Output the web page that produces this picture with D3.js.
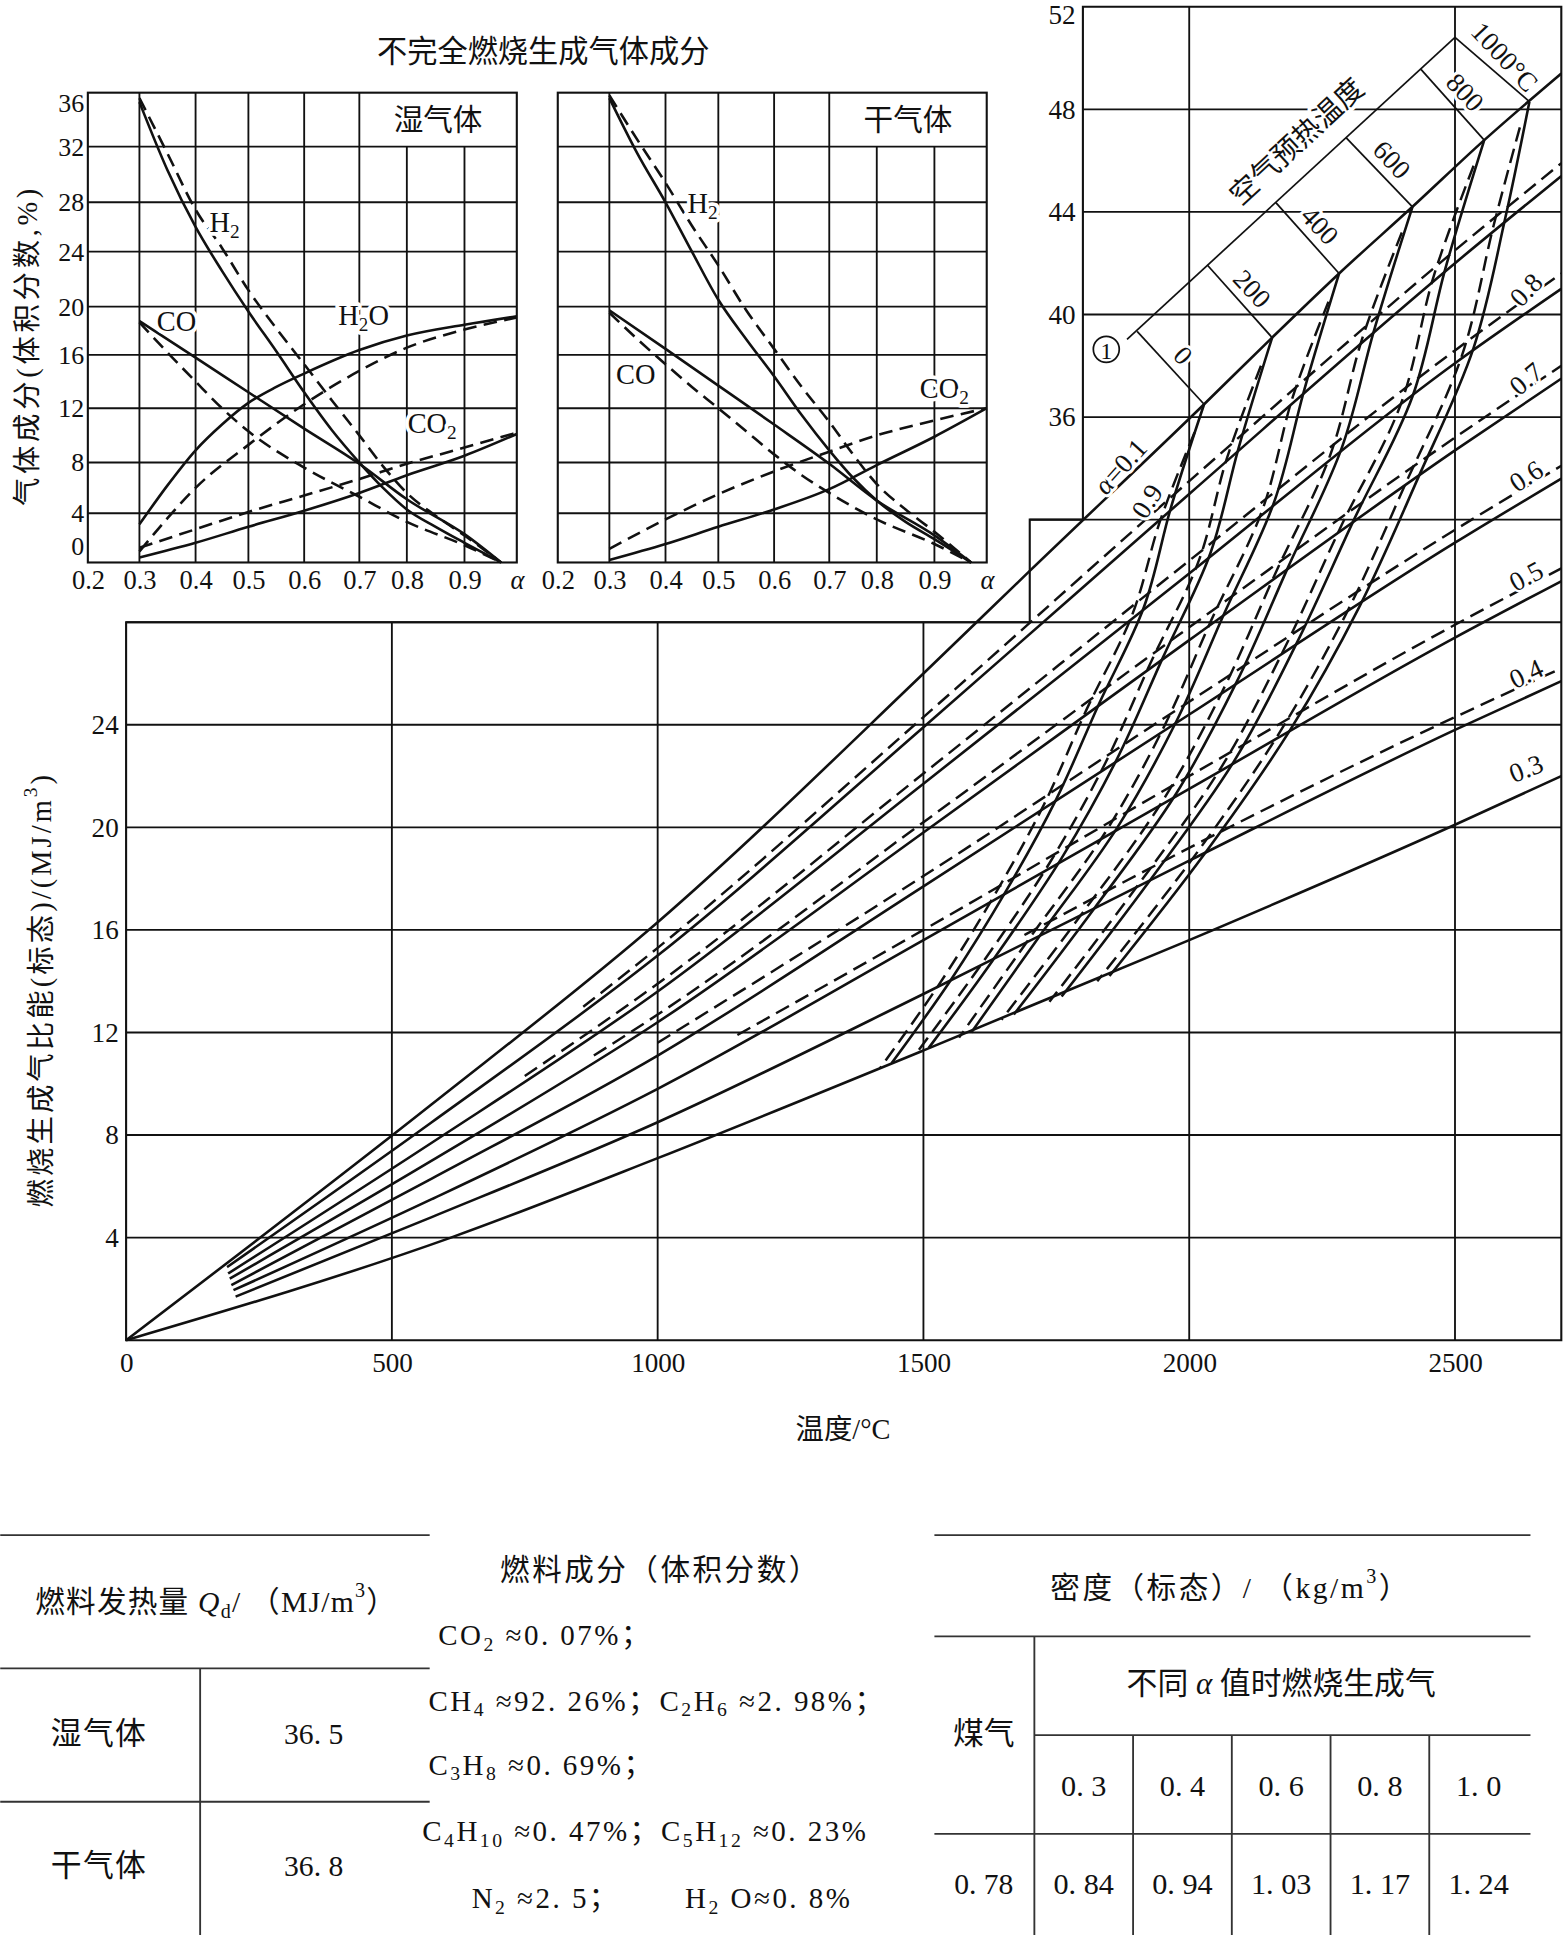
<!DOCTYPE html>
<html>
<head>
<meta charset="utf-8">
<script src="https://cdn.jsdelivr.net/npm/d3@7"></script>
<style>
body { margin: 0; background: #fff; }
svg { display: block; }
text { font-family: 'Liberation Serif', 'Noto Sans CJK SC', serif; fill: #111; }
</style>
</head>
<body>
<svg id="chart" width="1564" height="1935" viewBox="0 0 1267 1568"></svg>
<script>
// ---- small charts: gas composition vs alpha ----
const alphaGrid = [0.2, 0.3, 0.4, 0.5, 0.6, 0.7, 0.8, 0.9, 1.0];
const pctTicks = [0, 4, 8, 12, 16, 20, 24, 28, 32, 36];

const wetH2 = [[0.3,35.3],[0.35,30.3],[0.4,26.0],[0.45,22.6],[0.5,19.6],[0.55,16.3],[0.6,13.2],[0.65,10.4],[0.7,8.0],[0.75,6.0],[0.8,4.3],[0.85,2.9],[0.9,1.6],[0.97,0]];
const wetH2d = [[0.3,35.6],[0.35,31.5],[0.4,27.4],[0.45,24.3],[0.5,21.2],[0.55,18.2],[0.6,15.3],[0.65,12.6],[0.7,10.0],[0.75,7.7],[0.8,5.6],[0.85,3.8],[0.9,2.2],[0.97,0]];
const wetCO = [[0.3,18.8],[0.4,15.8],[0.5,13.2],[0.6,10.5],[0.7,7.9],[0.8,5.1],[0.9,2.3],[0.97,0]];
const wetCOd = [[0.3,18.7],[0.35,16.2],[0.4,14.0],[0.45,12.0],[0.5,10.3],[0.6,7.6],[0.7,5.3],[0.8,3.3],[0.9,1.4],[0.97,0]];
const wetH2O = [[0.3,3.1],[0.35,6.2],[0.4,8.9],[0.45,10.8],[0.5,12.4],[0.55,13.6],[0.6,14.6],[0.7,16.4],[0.8,17.6],[0.9,18.5],[1.0,19.2]];
const wetH2Od = [[0.3,0.9],[0.35,3.6],[0.4,6.0],[0.5,9.3],[0.6,12.3],[0.7,14.8],[0.8,16.6],[0.9,18.1],[1.0,19.1]];
const wetCO2 = [[0.3,0.4],[0.4,1.6],[0.5,2.9],[0.6,4.2],[0.7,5.6],[0.8,7.0],[0.9,8.5],[1.0,10.1]];
const wetCO2d = [[0.3,1.2],[0.4,2.7],[0.5,4.1],[0.6,5.4],[0.7,6.7],[0.8,7.9],[0.9,9.1],[1.0,10.2]];

const dryH2 = [[0.3,35.6],[0.35,31.5],[0.4,28.0],[0.45,24.0],[0.5,20.5],[0.55,17.3],[0.6,14.4],[0.65,11.5],[0.7,8.9],[0.75,6.8],[0.8,5.0],[0.85,3.3],[0.9,1.9],[0.97,0]];
const dryH2d = [[0.3,35.8],[0.35,32.5],[0.4,29.4],[0.45,26.1],[0.5,23.0],[0.55,19.7],[0.6,16.5],[0.65,13.6],[0.7,11.0],[0.75,8.6],[0.8,6.3],[0.85,4.3],[0.9,2.5],[0.97,0]];
const dryCO = [[0.3,19.7],[0.4,16.5],[0.5,13.7],[0.6,10.8],[0.7,7.9],[0.8,5.0],[0.9,2.2],[0.97,0]];
const dryCOd = [[0.3,19.5],[0.35,17.3],[0.4,15.3],[0.45,13.6],[0.5,12.0],[0.55,10.3],[0.6,8.6],[0.65,7.0],[0.7,5.6],[0.8,3.5],[0.9,1.5],[0.97,0]];
const dryCO2 = [[0.3,0.2],[0.4,1.5],[0.5,2.9],[0.6,4.3],[0.7,5.9],[0.8,7.8],[0.9,9.9],[1.0,12.0]];
const dryCO2d = [[0.3,1.1],[0.4,3.5],[0.5,5.5],[0.6,7.3],[0.7,8.8],[0.8,10.0],[0.9,11.1],[1.0,12.0]];

// ---- main chart: specific energy vs temperature ----
const tempTicks = [0, 500, 1000, 1500, 2000, 2500];
const energyLow = [4, 8, 12, 16, 20, 24];
const energyHigh = [36, 40, 44, 48, 52];

// solid alpha lines [T, MJ/m3]
const a10 = [[0,0],[575,9.2],[1000,16.3],[1500,26.0],[1700,30.0],[2028,36.5],[2156,39.1],[2282,41.6],[2420,44.2],[2555,46.8],[2700,49.4]];
const a09 = [[190,2.85],[575,8.5],[1000,15.0],[1500,23.9],[2000,33.0],[2500,42.0],[2700,45.4]];
const a08 = [[192,2.6],[575,7.7],[1000,13.6],[1500,21.7],[2000,29.9],[2500,38.1],[2700,41.0]];
const a07 = [[195,2.4],[575,7.0],[1000,12.4],[1500,19.8],[2000,27.3],[2500,34.7],[2700,37.5]];
const a06 = [[198,2.15],[575,6.3],[1000,11.1],[1500,17.7],[2000,24.4],[2500,31.1],[2700,33.6]];
const a05 = [[202,1.95],[575,5.5],[1000,9.8],[1500,15.6],[2000,21.5],[2500,27.4],[2700,29.6]];
const a04 = [[206,1.7],[575,4.8],[1000,8.5],[1500,13.5],[2000,18.7],[2500,23.8],[2700,25.7]];
const a03 = [[0,0],[611,4.0],[1000,7.1],[1500,11.3],[2000,15.6],[2500,20.1],[2700,22.0]];
// dashed alpha lines
const a09d = [[860,13.0],[1000,15.3],[1500,24.3],[2000,33.5],[2500,42.5],[2700,45.9]];
const a08d = [[750,10.3],[1000,13.9],[1500,22.1],[2000,30.4],[2500,38.6],[2700,41.6]];
const a07d = [[880,11.1],[1000,12.7],[1500,20.2],[2000,27.8],[2500,35.2],[2700,38.0]];
const a06d = [[1000,11.6],[1500,18.1],[2000,24.9],[2500,31.6],[2700,34.1]];
const a05d = [[1150,11.9],[1500,16.0],[2000,22.0],[2500,27.9],[2700,30.1]];
const a04d = [[1690,15.8],[2000,19.2],[2500,24.3],[2700,26.2]];

// air preheat curves, from alpha = 1.0 down to 0.3
const preheatTemps = [0, 200, 400, 600, 800, 1000];
const pre0 = [[2028,36.5],[1966,32.5],[1915,28.6],[1830,24.8],[1750,21.1],[1655,17.5],[1550,14.0],[1440,10.8]];
const pre200 = [[2156,39.1],[2093,34.8],[2040,30.7],[1950,26.6],[1865,22.7],[1760,18.8],[1630,14.8],[1510,11.4]];
const pre400 = [[2282,41.6],[2217,37.1],[2160,32.7],[2065,28.3],[1975,24.1],[1865,20.0],[1720,15.8],[1590,12.0]];
const pre600 = [[2420,44.2],[2348,39.4],[2287,34.8],[2185,30.1],[2090,25.7],[1975,21.3],[1820,16.8],[1670,12.7]];
const pre800 = [[2555,46.8],[2482,41.8],[2420,36.8],[2310,32.0],[2205,27.3],[2085,22.6],[1925,17.9],[1760,13.4]];
const pre1000 = [[2640,48.3],[2595,43.8],[2535,38.7],[2430,33.6],[2320,28.6],[2190,23.8],[2030,19.0],[1850,14.2]];
const pre0d = [[2010,35.4],[1946,32.0],[1893,28.3],[1807,24.6],[1727,20.9],[1632,17.3],[1527,13.8],[1418,10.6]];
const pre200d = [[2135,38.0],[2071,34.4],[2018,30.4],[1927,26.4],[1842,22.5],[1737,18.6],[1607,14.6],[1487,11.2]];
const pre400d = [[2262,40.5],[2195,36.8],[2138,32.4],[2042,28.1],[1952,23.9],[1842,19.8],[1697,15.6],[1567,11.8]];
const pre600d = [[2400,43.2],[2326,39.1],[2265,34.5],[2162,29.9],[2067,25.5],[1952,21.1],[1797,16.6],[1647,12.5]];
const pre800d = [[2535,45.8],[2460,41.5],[2398,36.5],[2287,31.8],[2182,27.1],[2062,22.4],[1902,17.7],[1737,13.2]];
const pre1000d = [[2622,47.3],[2573,43.5],[2513,38.4],[2407,33.4],[2297,28.4],[2167,23.6],[2007,18.8],[1827,14.0]];

// preheat scale axis: start, then tick points for 0..1000 °C
const preheatAxisStart = [1883, 39.03];
const preheatTickPts = [[1902,39.34],[2034,41.93],[2163,44.36],[2295,46.9],[2436,49.56],[2500,50.81]];

// ---- tables ----
const heatRows = [['湿气体', '36. 5'], ['干气体', '36. 8']];
const densityAlpha = ['0. 3', '0. 4', '0. 6', '0. 8', '1. 0'];
const densityGas = '0. 78';
const densityProducts = ['0. 84', '0. 94', '1. 03', '1. 17', '1. 24'];

const svg = d3.select('#chart');
const INK = '#111';

function rich(g, x, y, parts, size, opts = {}) {
    const t = g.append('text').attr('x', x).attr('y', y).attr('font-size', size)
        .attr('text-anchor', opts.anchor || 'middle').attr('dominant-baseline', 'central');
    if (opts.rotate) t.attr('transform', `rotate(${opts.rotate},${x},${y})`);
    if (opts.halo) t.attr('stroke', '#fff').attr('stroke-width', opts.halo)
        .attr('paint-order', 'stroke').attr('stroke-linejoin', 'round');
    if (opts.spacing) t.attr('letter-spacing', opts.spacing);
    let shift = 0;
    parts.forEach(p => {
        const [s, k] = typeof p === 'string' ? [p, ''] : p;
        const target = k === 'sub' ? size * 0.3 : k === 'sup' ? -size * 0.4 : 0;
        const ts = t.append('tspan').attr('dy', target - shift).text(s);
        if (k === 'sub' || k === 'sup') ts.attr('font-size', size * 0.68);
        if (k === 'i') ts.attr('font-style', 'italic');
        shift = target;
    });
    return t;
}

const valueAt = (pts, t) => {
    for (let i = 1; i < pts.length; i++) {
        if (t <= pts[i][0]) {
            const [t0, v0] = pts[i - 1], [t1, v1] = pts[i];
            return v0 + (v1 - v0) * (t - t0) / (t1 - t0);
        }
    }
    return pts[pts.length - 1][1];
};

// ================= small charts =================
const yPct = d3.scaleLinear().domain(pctTicks)
    .range([455.8, 415.9, 374.8, 330.8, 287.6, 248.5, 203.9, 163.9, 118.8, 75.1]);
const xWet = d3.scaleLinear().domain(alphaGrid)
    .range([71, 112.8, 158.3, 201.1, 246.3, 291, 329.5, 376.2, 418.6]);
const xDry = xWet.copy().range(xWet.range().map(d => d + 380.8));

const panel = (xs, title, series, labels) => {
    const g = svg.append('g');
    const x0 = xs(0.2), x1 = xs(1.0);
    g.selectAll('.h').data(pctTicks.slice(1, -1)).join('line')
        .attr('x1', x0).attr('x2', x1).attr('y1', d => yPct(d)).attr('y2', d => yPct(d))
        .attr('stroke', INK).attr('stroke-width', 1.5);
    g.selectAll('.v').data(alphaGrid.slice(1, -1)).join('line')
        .attr('x1', d => xs(d)).attr('x2', d => xs(d))
        .attr('y1', d => d >= 0.8 ? yPct(32) : yPct(36)).attr('y2', yPct(0))
        .attr('stroke', INK).attr('stroke-width', 1.5);
    g.append('rect').attr('x', x0).attr('y', yPct(36)).attr('width', x1 - x0).attr('height', yPct(0) - yPct(36))
        .attr('fill', 'none').attr('stroke', INK).attr('stroke-width', 1.7);

    const line = d3.line().x(d => xs(d[0])).y(d => yPct(d[1])).curve(d3.curveMonotoneX);
    g.selectAll('.curve').data(series).join('path')
        .attr('d', d => line(d.data)).attr('fill', 'none').attr('stroke', INK)
        .attr('stroke-width', 2.1).attr('stroke-dasharray', d => d.dash ? '11,6' : null);

    labels.forEach(l => rich(g, xs(l.at[0]), yPct(l.at[1]), l.parts, 23, { halo: 6 }));
    rich(g, (xs(0.7) + x1) / 2, (yPct(36) + yPct(32)) / 2, [title], 24);

    g.append('g').attr('transform', `translate(0,${yPct(0)})`)
        .call(d3.axisBottom(xs).tickValues(alphaGrid).tickSize(0).tickPadding(6)
            .tickFormat(d => d === 1 ? 'α' : d3.format('.1f')(d)))
        .call(a => a.select('.domain').remove())
        .call(a => a.selectAll('text').attr('font-size', 21.5).attr('font-family', null)
            .attr('font-style', d => d === 1 ? 'italic' : null));
    return g;
};

panel(xWet, '湿气体', [
    { data: wetH2 }, { data: wetH2d, dash: true }, { data: wetCO }, { data: wetCOd, dash: true },
    { data: wetH2O }, { data: wetH2Od, dash: true }, { data: wetCO2 }, { data: wetCO2d, dash: true }
], [
    { at: [0.455, 26.4], parts: ['H', ['2', 'sub']] },
    { at: [0.366, 18.8], parts: ['CO'] },
    { at: [0.709, 19.3], parts: ['H', ['2', 'sub'], 'O'] },
    { at: [0.844, 10.9], parts: ['CO', ['2', 'sub']] }
]);
panel(xDry, '干气体', [
    { data: dryH2 }, { data: dryH2d, dash: true }, { data: dryCO }, { data: dryCOd, dash: true },
    { data: dryCO2 }, { data: dryCO2d, dash: true }
], [
    { at: [0.47, 27.9], parts: ['H', ['2', 'sub']] },
    { at: [0.347, 14.6], parts: ['CO'] },
    { at: [0.919, 13.5], parts: ['CO', ['2', 'sub']] }
]);

svg.append('g').attr('transform', `translate(${xWet(0.2)},0)`)
    .call(d3.axisLeft(yPct).tickValues(pctTicks).tickSize(0).tickPadding(3))
    .call(a => a.select('.domain').remove())
    .call(a => a.selectAll('text').attr('font-size', 21).attr('font-family', null)
        .attr('dy', d => d === 36 ? '0.72em' : d === 0 ? '-0.3em' : '0.32em'));

rich(svg, 440, 42, ['不完全燃烧生成气体成分'], 24.5);
rich(svg, 22, 280, ['气体成分(体积分数,%)'], 23, { rotate: -90, spacing: 3 });

// ================= main chart =================
const xT = d3.scaleLinear().domain([0, 2700]).range([102, 1265]);
const yE = d3.scaleLinear().domain([0, 52]).range([1086, 5.5]);
const main = svg.append('g');

const hLines = [
    ...energyLow.map(v => [0, 2700, v]), [0, 2700, 28], [1700, 2700, 32],
    ...energyHigh.slice(0, -1).map(v => [1800, 2700, v])
];
main.selectAll('.hg').data(hLines).join('line')
    .attr('x1', d => xT(d[0])).attr('x2', d => xT(d[1])).attr('y1', d => yE(d[2])).attr('y2', d => yE(d[2]))
    .attr('stroke', INK).attr('stroke-width', 1.5);
const vLines = [[500, 28], [1000, 28], [1500, 28], [2000, 52], [2500, 52]];
main.selectAll('.vg').data(vLines).join('line')
    .attr('x1', d => xT(d[0])).attr('x2', d => xT(d[0])).attr('y1', yE(0)).attr('y2', d => yE(d[1]))
    .attr('stroke', INK).attr('stroke-width', 1.5);
const frame = d3.path();
[[0, 0], [2700, 0], [2700, 52], [1800, 52], [1800, 32], [1700, 32], [1700, 28], [0, 28]]
    .forEach(([t, v], i) => i ? frame.lineTo(xT(t), yE(v)) : frame.moveTo(xT(t), yE(v)));
frame.closePath();
main.append('path').attr('d', frame.toString()).attr('fill', 'none').attr('stroke', INK).attr('stroke-width', 1.7);

const eLine = d3.line().x(d => xT(d[0])).y(d => yE(d[1])).curve(d3.curveMonotoneX);
const pLine = d3.line().x(d => xT(d[0])).y(d => yE(d[1])).curve(d3.curveCatmullRom.alpha(0.5));

const solidAlpha = [a10, a09, a08, a07, a06, a05, a04, a03];
const dashAlpha = [a09d, a08d, a07d, a06d, a05d, a04d];
const solidPre = [pre0, pre200, pre400, pre600, pre800, pre1000];
const dashPre = [pre0d, pre200d, pre400d, pre600d, pre800d, pre1000d];

main.selectAll('.da').data(dashAlpha).join('path').attr('d', eLine)
    .attr('fill', 'none').attr('stroke', INK).attr('stroke-width', 2).attr('stroke-dasharray', '12,6');
main.selectAll('.dp').data(dashPre).join('path').attr('d', pLine)
    .attr('fill', 'none').attr('stroke', INK).attr('stroke-width', 2).attr('stroke-dasharray', '12,6');
main.selectAll('.sa').data(solidAlpha).join('path').attr('d', eLine)
    .attr('fill', 'none').attr('stroke', INK).attr('stroke-width', 2.1);
main.selectAll('.sp').data(solidPre).join('path').attr('d', pLine)
    .attr('fill', 'none').attr('stroke', INK).attr('stroke-width', 2.1);

// preheat temperature scale
main.append('line')
    .attr('x1', xT(preheatAxisStart[0])).attr('y1', yE(preheatAxisStart[1]))
    .attr('x2', xT(preheatTickPts[5][0])).attr('y2', yE(preheatTickPts[5][1]))
    .attr('stroke', INK).attr('stroke-width', 1.4);
main.selectAll('.perp').data(preheatTickPts).join('line')
    .attr('x1', d => xT(d[0])).attr('y1', d => yE(d[1]))
    .attr('x2', (d, i) => xT(solidPre[i][0][0])).attr('y2', (d, i) => yE(solidPre[i][0][1]))
    .attr('stroke', INK).attr('stroke-width', 1.4);
preheatTickPts.forEach((d, i) => {
    const mx = (xT(d[0]) + xT(solidPre[i][0][0])) / 2 + 10;
    const my = (yE(d[1]) + yE(solidPre[i][0][1])) / 2 - 10;
    rich(main, mx, my, [preheatTemps[i] === 1000 ? '1000°C' : String(preheatTemps[i])], 22, { rotate: 47, halo: 5 });
});
rich(main, xT(2202), yE(46.75), ['空气预热温度'], 23, { rotate: -42.7, halo: 6 });
main.append('circle').attr('cx', xT(1844)).attr('cy', yE(38.64)).attr('r', 10.5)
    .attr('fill', '#fff').attr('stroke', INK).attr('stroke-width', 1.4);
rich(main, xT(1844), yE(38.64) + 1, ['1'], 19);

// alpha labels
rich(main, xT(1871), yE(valueAt(a10, 1871)) - 14, [['α', 'i'], '=0.1'], 22, { rotate: -48, halo: 5 });
rich(main, xT(1921), yE(valueAt(a09, 1921)) - 24, ['0.9'], 22, { rotate: -58, halo: 5 });
const rightLabels = [['0.8', a08, -46], ['0.7', a07, -40], ['0.6', a06, -33], ['0.5', a05, -28], ['0.4', a04, -25], ['0.3', a03, -21]];
rightLabels.forEach(([txt, pts, ang]) => {
    rich(main, xT(2634), yE(valueAt(pts, 2634)) - 19, [txt], 22, { rotate: ang, halo: 4 });
});

// axes
main.append('g').attr('transform', `translate(0,${yE(0)})`)
    .call(d3.axisBottom(xT).tickValues(tempTicks).tickSize(0).tickPadding(10).tickFormat(d3.format('d')))
    .call(a => a.select('.domain').remove())
    .call(a => a.selectAll('text').attr('font-size', 22).attr('font-family', null));
main.append('g').attr('transform', `translate(${xT(0)},0)`)
    .call(d3.axisLeft(yE).tickValues(energyLow).tickSize(0).tickPadding(6))
    .call(a => a.select('.domain').remove())
    .call(a => a.selectAll('text').attr('font-size', 22).attr('font-family', null));
main.append('g').attr('transform', `translate(${xT(1800)},0)`)
    .call(d3.axisLeft(yE).tickValues(energyHigh).tickSize(0).tickPadding(6))
    .call(a => a.select('.domain').remove())
    .call(a => a.selectAll('text').attr('font-size', 22).attr('font-family', null)
        .attr('dy', d => d === 52 ? '0.62em' : '0.32em'));

rich(svg, 683, 1158, ['温度/°C'], 23);
rich(svg, 33, 802, ['燃烧生成气比能(标态)/(MJ/m', ['3', 'sup'], ')'], 23, { rotate: -90, spacing: 2.5 });

// ================= tables =================
const tab = svg.append('g');
const rule = (x1, y1, x2, y2) => tab.append('line').attr('x1', x1).attr('y1', y1).attr('x2', x2).attr('y2', y2)
    .attr('stroke', '#333').attr('stroke-width', 1.5);
rule(0, 1244, 348, 1244); rule(0, 1352, 348, 1352); rule(0, 1460, 348, 1460); rule(162, 1352, 162, 1568);
rich(tab, 175, 1298, ['燃料发热量 ', ['Q', 'i'], ['d', 'sub'], '/ （MJ/m', ['3', 'sup'], '）'], 24, { spacing: 1 });
heatRows.forEach(([name, val], i) => {
    rich(tab, 80, 1405 + i * 107, [name], 25, { spacing: 1 });
    rich(tab, 254, 1405 + i * 107, [val], 24);
});

rich(tab, 535, 1272, ['燃料成分（体积分数）'], 24, { spacing: 2 });
const compLines = [
    [355, 1325, ['CO', ['2', 'sub'], ' ≈0. 07%；']],
    [347, 1378, ['CH', ['4', 'sub'], ' ≈92. 26%；C', ['2', 'sub'], 'H', ['6', 'sub'], ' ≈2. 98%；']],
    [347, 1430, ['C', ['3', 'sub'], 'H', ['8', 'sub'], ' ≈0. 69%；']],
    [342, 1484, ['C', ['4', 'sub'], 'H', ['10', 'sub'], ' ≈0. 47%；C', ['5', 'sub'], 'H', ['12', 'sub'], ' ≈0. 23%']],
    [382, 1538, ['N', ['2', 'sub'], ' ≈2. 5；']],
    [555, 1538, ['H', ['2', 'sub'], ' O≈0. 8%']]
];
compLines.forEach(([x, y, parts]) => rich(tab, x, y, parts, 23.5, { anchor: 'start', spacing: 2 }));

rule(757, 1244, 1240, 1244); rule(757, 1326, 1240, 1326); rule(838, 1406, 1240, 1406); rule(757, 1486, 1240, 1486);
rule(838, 1326, 838, 1568);
[918, 998, 1078, 1158].forEach(x => rule(x, 1406, x, 1568));
rich(tab, 997, 1287, ['密度（标态）/ （kg/m', ['3', 'sup'], '）'], 24, { spacing: 2 });
rich(tab, 1038, 1365, ['不同 ', ['α', 'i'], ' 值时燃烧生成气'], 25);
rich(tab, 797, 1405, ['煤气'], 25);
rich(tab, 797, 1527, [densityGas], 24);
densityAlpha.forEach((a, i) => rich(tab, 878 + i * 80, 1447, [a], 24.5));
densityProducts.forEach((a, i) => rich(tab, 878 + i * 80, 1527, [a], 24.5));
</script>
</body>
</html>
